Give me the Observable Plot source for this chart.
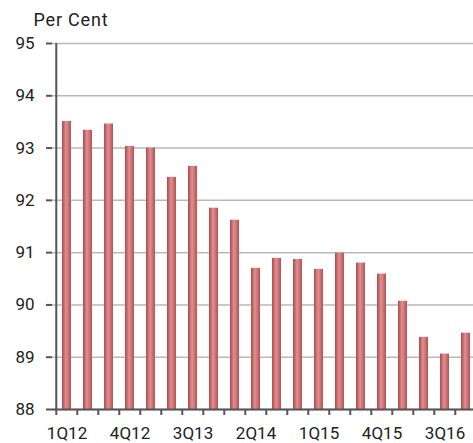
<!DOCTYPE html>
<html><head><meta charset="utf-8">
<script src="https://cdn.jsdelivr.net/npm/d3@7"></script>
<script src="https://cdn.jsdelivr.net/npm/@observablehq/plot@0.6"></script>
<style>
html,body{margin:0;padding:0;background:#fff;overflow:hidden;width:473px;height:443px}
#chart svg{display:block;max-width:none !important;height:443px !important}
</style></head>
<body><div id="chart"></div>
<script>
const quarters = ["1Q12","2Q12","3Q12","4Q12","1Q13","2Q13","3Q13","4Q13","1Q14","2Q14","3Q14","4Q14","1Q15","2Q15","3Q15","4Q15","1Q16","2Q16","3Q16","4Q16"];
const values = [93.51,93.34,93.46,93.03,93.0,92.44,92.65,91.85,91.62,90.70,90.89,90.87,90.68,90.99,90.80,90.59,90.07,89.38,89.06,89.46];
const labelledQuarters = ["1Q12","4Q12","3Q13","2Q14","1Q15","4Q15","3Q16"];
const yTicks = [88,89,90,91,92,93,94,95];
const yLabel = "Per Cent";

const data = quarters.map((q,i)=>({q, v: values[i]}));
const W = 481, ML = 52;
const step = (W - ML) / quarters.length;

const chart = Plot.plot({
  width: W, height: 443,
  marginLeft: ML, marginRight: 0, marginTop: 43, marginBottom: 34,
  style: {fontFamily: "Roboto, sans-serif", fontSize: "16px", color: "#222", background: "transparent", maxWidth: "none"},
  x: {domain: quarters, paddingInner: 0.57, paddingOuter: 0.285, axis: null},
  y: {domain: [88, 95], axis: null},
  marks: [
    Plot.gridY(yTicks, {stroke: "#b9b9b9", strokeOpacity: 1, strokeWidth: 1.5}),
    Plot.barY(data, {x: "q", y1: 88, y2: "v", fill: "url(#barGrad)"}),
    Plot.axisY({ticks: yTicks, tickFormat: d => String(d), tickSize: 6, tickPadding: 12, stroke: "#555", strokeWidth: 2, fontSize: 17, fill: "#222", label: null}),
    Plot.axisX({ticks: quarters, tickSize: 6, tickFormat: () => "", dx: -step/2, stroke: "#555", strokeWidth: 2, label: null}),
    Plot.axisX({ticks: labelledQuarters, tickSize: 0, tickPadding: 17, fontSize: 17, fill: "#222", label: null}),
    Plot.ruleX([quarters[0]], {dx: -step/2, stroke: "#555", strokeWidth: 2}),
    Plot.ruleY([88], {stroke: "#555", strokeWidth: 2}),
    Plot.text([yLabel], {frameAnchor: "top-left", dx: -19, dy: -23, textAnchor: "start", lineAnchor: "middle", fontSize: 18, fill: "#222"})
  ]
});

const ns = "http://www.w3.org/2000/svg";
const defs = document.createElementNS(ns, "defs");
defs.innerHTML = `<linearGradient id="barGrad" x1="0" y1="0" x2="1" y2="0">
  <stop offset="0" stop-color="#b0474a"/>
  <stop offset="0.45" stop-color="#dc9294"/>
  <stop offset="0.6" stop-color="#d57f82"/>
  <stop offset="1" stop-color="#b85053"/>
</linearGradient>`;
chart.insertBefore(defs, chart.firstChild);
chart.querySelectorAll("text").forEach(t => { if (t.textContent === yLabel) t.setAttribute("letter-spacing", "0.8"); });
document.getElementById("chart").appendChild(chart);
</script></body></html>
